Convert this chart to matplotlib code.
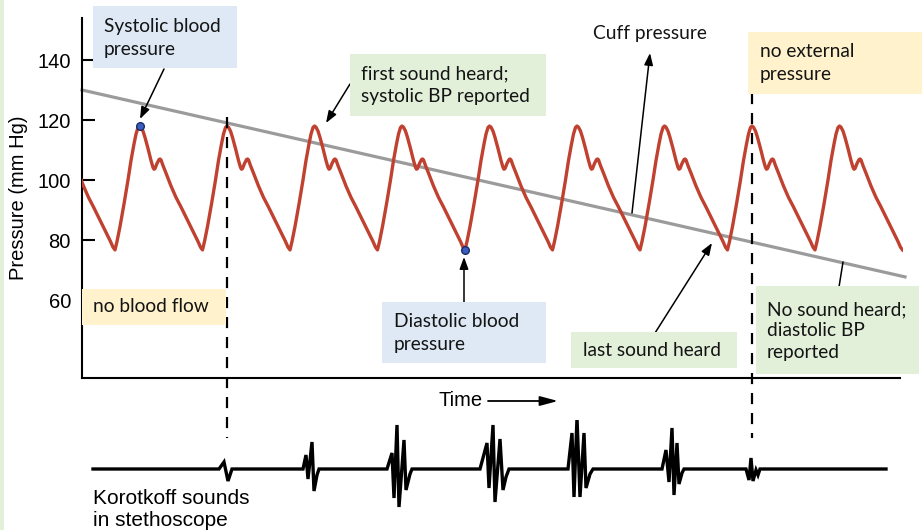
import matplotlib
matplotlib.use('Agg')
import matplotlib.pyplot as plt
import numpy as np
from matplotlib.patches import Rectangle

# one heartbeat, from one trough to the next (seconds after trough, mm Hg)
beat_dt = [0.0, 0.02, 0.05, 0.09, 0.13, 0.16, 0.19, 0.21, 0.23, 0.245, 0.26, 0.28,
           0.30, 0.33, 0.36, 0.38, 0.39, 0.40, 0.42, 0.44, 0.45, 0.46, 0.48, 0.51,
           0.56, 0.61, 0.66, 0.71, 0.76, 0.80, 0.83, 0.855, 0.875]
beat_p = [76.7, 79.5, 84.5, 92, 100, 106.5, 112, 115.3, 117.5, 118, 117.6, 116.3,
          114.2, 110.5, 106.5, 104.2, 103.6, 103.8, 105.5, 106.8, 107, 106.7, 104.8, 102.3,
          98, 94.2, 91, 87.6, 84.2, 81.5, 79.5, 77.6, 76.7]
period = 0.875
first_trough = 0.33
beat_index = list(range(-1, 9))

# cuff pressure, falling steadily
cuff_t = [0.0, 8.23]
cuff_p = [130, 67.7]

systolic_beat = 0
first_sound_beat = 1
last_sound_beat = 7
diastolic_beat = 4
dash_top = [121, 129]
dash_bottom = 14

yticks = [60, 80, 100, 120, 140]

# Korotkoff sound trace (seconds, deflection)
sound_start = 0.11
sound_end = 8.04
bursts = [
    ([1.37, 1.42, 1.46, 1.50], [0, 7, -12, 0]),
    ([2.21, 2.24, 2.26, 2.30, 2.32, 2.35, 2.37], [0, 14, -10, 27, -22, -6, 0]),
    ([3.05, 3.10, 3.12, 3.15, 3.17, 3.22, 3.24, 3.28, 3.30], [0, 16, -29, 44, -38, 29, -21, -5, 0]),
    ([3.98, 4.05, 4.07, 4.11, 4.13, 4.18, 4.21, 4.24, 4.27], [0, 26, -19, 44, -33, 30, -21, -8, 0]),
    ([4.86, 4.90, 4.92, 4.95, 4.98, 5.02, 5.04, 5.08, 5.11], [0, 36, -28, 51, -28, 36, -19, -5, 0]),
    ([5.80, 5.84, 5.87, 5.90, 5.92, 5.95, 5.97, 6.00, 6.02], [0, 19, -13, 41, -26, 26, -15, -4, 0]),
    ([6.64, 6.67, 6.69, 6.71, 6.74, 6.76, 6.78], [0, -11, 11, -12, -1, -6, 0]),
]

W, H = 922, 530
BLUE = '#dee9f5'
GREEN = '#e2efd9'
YELLOW = '#fff2cc'
NOTE_FONT = 'Lato'
NOTE_SIZE = 13.8


def fp(x, y):
    # pixel position (from top left) to figure fraction
    return (x / W, 1 - y / H)


def note_box(fig, x0, y0, x1, y1, color, text, tx, ty, spacing=1.4):
    fig.patches.append(Rectangle(fp(x0, y1), (x1 - x0) / W, (y1 - y0) / H,
                                 transform=fig.transFigure, facecolor=color,
                                 edgecolor='none', zorder=1))
    fig.text(*fp(tx, ty), text, ha='left', va='center', fontsize=NOTE_SIZE,
             family=NOTE_FONT, color='#141414', linespacing=spacing, zorder=3)


def arrow(ax, tail, head, head_on=True, scale=12):
    style = '-|>,head_length=0.6,head_width=0.22' if head_on else '-'
    ax.annotate('', xy=fp(*head), xycoords='figure fraction',
                xytext=fp(*tail), textcoords='figure fraction',
                arrowprops=dict(arrowstyle=style, color='black', lw=1.1,
                                mutation_scale=scale, shrinkA=0, shrinkB=0))


plt.rcParams['font.family'] = ['Liberation Sans', 'DejaVu Sans']

fig = plt.figure(figsize=(W / 100, H / 100), dpi=100)
ax = fig.add_axes([82 / W, 1 - 378 / H, 821 / W, 360 / H])
ax2 = fig.add_axes([82 / W, 1 - 520 / H, 821 / W, 100 / H])

# blood pressure waveform
t_all = []
p_all = []
for k in beat_index:
    start = first_trough + k * period
    t_all.extend([start + d for d in beat_dt])
    p_all.extend(beat_p)
ax.plot(t_all, p_all, color='#c0412f', lw=2.4, solid_joinstyle='round', zorder=3)

# cuff pressure
ax.plot(cuff_t, cuff_p, color='#9b9b9b', lw=2.3, clip_on=False, zorder=2)

peak_dt = beat_dt[int(np.argmax(beat_p))]
sys_t = first_trough + systolic_beat * period + peak_dt
dia_t = first_trough + diastolic_beat * period
ax.plot([sys_t], [max(beat_p)], 'o', ms=5.5, mfc='#3b5fc0', mec='#1c2b66', mew=1, zorder=5)
ax.plot([dia_t], [min(beat_p)], 'o', ms=5.5, mfc='#3b5fc0', mec='#1c2b66', mew=1, zorder=5)

# dashed markers for first and last sounds
for b, top in zip([first_sound_beat, last_sound_beat], dash_top):
    tx = first_trough + b * period + peak_dt
    ax.plot([tx, tx], [top, dash_bottom], color='black', lw=1.6,
            linestyle=(0, (5, 4)), clip_on=False, zorder=4)

ax.set_xlim(0, 8.21)
ax.set_ylim(34, 154)
ax.spines['top'].set_visible(False)
ax.spines['right'].set_visible(False)
ax.spines['left'].set_linewidth(1.5)
ax.spines['bottom'].set_linewidth(1.5)
ax.spines['bottom'].set_bounds(0, 8.18)
ax.set_xticks([])
ax.set_yticks(yticks)
ax.tick_params(axis='y', direction='in', length=9, width=1.5, pad=8, labelsize=14.5)
ax.set_ylabel('Pressure (mm Hg)', fontsize=14.5)
ax.yaxis.set_label_coords(-0.066, 0.5)
ax.patch.set_alpha(0)

# Korotkoff sound trace
st = [sound_start]
sp = [0]
for bt, bp in bursts:
    st.extend(bt)
    sp.extend(bp)
st.append(sound_end)
sp.append(0)
ax2.plot(st, sp, color='black', lw=2.4, solid_joinstyle='miter')
ax2.set_xlim(0, 8.21)
ax2.set_ylim(-51, 49)
ax2.axis('off')

# left edge stripe
fig.patches.append(Rectangle((0, 0), 4 / W, 1, transform=fig.transFigure,
                             facecolor=GREEN, edgecolor='none', zorder=1))

# note boxes
note_box(fig, 93, 6, 237, 68, BLUE, 'Systolic blood\npressure', 104, 38)
note_box(fig, 350, 54, 546, 116, GREEN, 'first sound heard;\nsystolic BP reported', 361, 85)
note_box(fig, 748, 32, 922, 94, YELLOW, 'no external\npressure', 760, 63)
note_box(fig, 82, 289, 226, 325, YELLOW, 'no blood flow', 93, 307)
note_box(fig, 382, 302, 546, 363, BLUE, 'Diastolic blood\npressure', 394, 333)
note_box(fig, 571, 332, 737, 368, GREEN, 'last sound heard', 583, 350)
note_box(fig, 756, 286, 919, 374, GREEN, 'No sound heard;\ndiastolic BP\nreported', 767, 331,
         spacing=1.3)
fig.text(*fp(650, 33), 'Cuff pressure', ha='center', va='center',
         fontsize=NOTE_SIZE, family=NOTE_FONT, color='#141414')

# arrows
arrow(ax, (164, 69), (140, 119))
arrow(ax, (350, 84), (326, 123))
arrow(ax, (632, 213), (650, 53))
arrow(ax, (464, 302), (464, 257))
arrow(ax, (655, 333), (712, 243))
arrow(ax, (839, 287), (843, 262), head_on=False)

# time axis label
fig.text(*fp(438, 400), 'Time', ha='left', va='center', fontsize=14.5)
ax.annotate('', xy=fp(558, 401), xycoords='figure fraction',
            xytext=fp(488, 401), textcoords='figure fraction',
            arrowprops=dict(arrowstyle='-|>,head_length=0.6,head_width=0.16',
                            color='black', lw=1.3, mutation_scale=18,
                            shrinkA=0, shrinkB=0))

fig.text(*fp(93, 509), 'Korotkoff sounds\nin stethoscope', ha='left', va='center',
         fontsize=15, linespacing=1.2)

fig.savefig('out.png', dpi=100)
